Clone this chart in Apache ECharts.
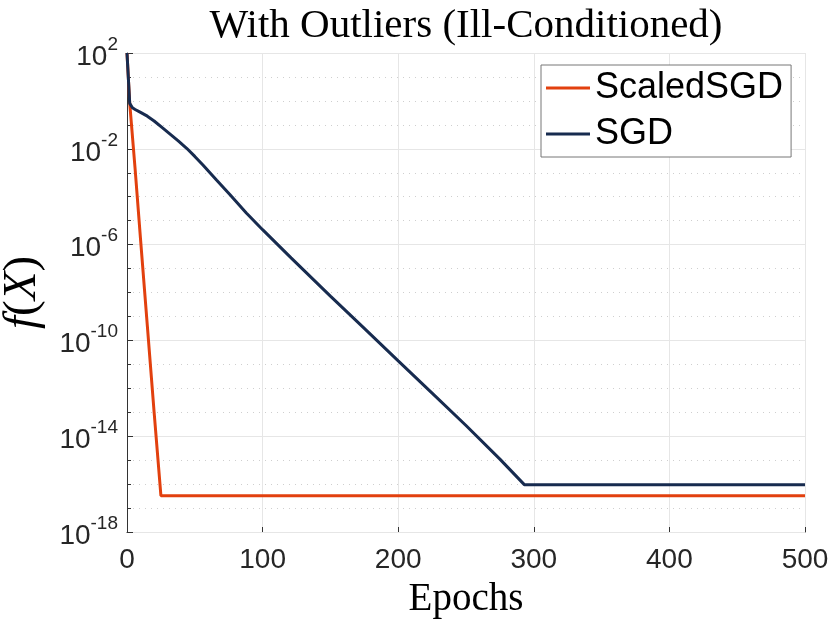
<!DOCTYPE html>
<html>
<head>
<meta charset="utf-8">
<script src="https://cdn.jsdelivr.net/npm/echarts@6/dist/echarts.min.js"></script>
<style>
  html, body { margin: 0; padding: 0; background: #fff; }
  #chart { width: 830px; height: 623px; }
</style>
</head>
<body>
<div id="chart"></div>
<script>
// values (epoch, f(X))
var scaledEpochs = [0, 2, 6, 10, 15, 20, 25, 500];
var scaledLoss   = [100, 0.8, 1.4e-3, 1.6e-6, 4.0e-10, 1.0e-13, 3.3e-17, 3.3e-17];

var sgdEpochs = [0, 2, 4, 6, 10, 15, 20, 26, 32, 38, 44, 50, 56, 66, 76, 88, 100, 121, 150, 175, 200, 225, 250, 275, 293, 500];
var sgdLoss   = [100, 0.79, 0.52, 0.44, 0.33, 0.23, 0.145, 0.076, 0.040, 0.0209, 0.0105, 0.0048, 0.0021, 5.0e-4, 1.2e-4, 2.1e-5,
                 4.2e-6, 2.8e-7, 7.1e-9, 3.2e-10, 1.4e-11, 6.3e-13, 2.8e-14, 1.1e-15, 9.5e-17, 9.5e-17];

var seriesNames = ['ScaledSGD', 'SGD'];
var seriesColors = ['#e2400e', '#172b4f'];

var xTicks = [0, 100, 200, 300, 400, 500];

function pairs(xs, ys) {
  return xs.map(function (x, i) { return [x, ys[i]]; });
}

var chart = echarts.init(document.getElementById('chart'));

var option = {
  animation: false,
  backgroundColor: '#fff',
  title: {
    text: 'With Outliers (Ill-Conditioned)',
    left: 461,
    top: 1,
    textAlign: 'center',
    textStyle: { fontFamily: 'Liberation Serif', fontWeight: 'normal', fontSize: 41, color: '#000' }
  },
  legend: {
    orient: 'vertical',
    left: 541,
    top: 65,
    padding: [3, 8, 3, 5],
    itemGap: 6,
    itemWidth: 44,
    itemHeight: 3,
    icon: 'rect',
    backgroundColor: '#fff',
    borderColor: '#777',
    borderWidth: 1,
    textStyle: { fontFamily: 'Liberation Sans', fontSize: 36, color: '#000', lineHeight: 40 },
    data: seriesNames
  },
  grid: { left: 127, right: 25, top: 53, bottom: 91, outerBoundsMode: 'none' },
  xAxis: {
    type: 'value',
    min: 0,
    max: 500,
    interval: 100,
    name: 'Epochs',
    nameLocation: 'middle',
    nameGap: 48,
    nameTextStyle: { fontFamily: 'Liberation Serif', fontSize: 39, color: '#000' },
    axisLine: { lineStyle: { color: '#333', width: 1 } },
    axisTick: { inside: true, length: 5, lineStyle: { color: '#333' } },
    axisLabel: {
      margin: 14,
      fontFamily: 'Liberation Sans', fontSize: 28, color: '#262626',
      formatter: function (v) { return xTicks.indexOf(v) >= 0 ? String(v) : ''; }
    },
    splitLine: { show: true, lineStyle: { color: '#e6e6e6', width: 1 } }
  },
  yAxis: [
    {
      type: 'log',
      logBase: 10,
      min: 1e-18,
      max: 1e2,
      interval: 4,
      z: 2,
      name: '{i|f}{p|(}{i|X}{p|)}',
      nameLocation: 'middle',
      nameGap: 81,
      nameRotate: 90,
      nameTextStyle: {
        rich: {
          i: { fontFamily: 'Liberation Serif', fontStyle: 'italic', fontSize: 47, color: '#000' },
          p: { fontFamily: 'Liberation Serif', fontSize: 47, color: '#000' }
        }
      },
      axisLine: { show: true, lineStyle: { color: '#333', width: 1 } },
      axisTick: { inside: true, length: 6, lineStyle: { color: '#333' } },
      axisLabel: {
        margin: 9,
        formatter: function (v) {
          var e = Math.round(Math.log(v) / Math.LN10);
          return '{b|10}{s|' + e + '}';
        },
        rich: {
          b: { fontFamily: 'Liberation Sans', fontSize: 28, color: '#262626', lineHeight: 36, verticalAlign: 'bottom' },
          s: { fontFamily: 'Liberation Sans', fontSize: 19, color: '#262626', lineHeight: 36, verticalAlign: 'top' }
        }
      },
      splitLine: { show: true, lineStyle: { color: '#e6e6e6', width: 1 } }
    },
    {
      // minor decades: dotted grid + short ticks
      type: 'log',
      logBase: 10,
      min: 1e-18,
      max: 1e2,
      interval: 1,
      position: 'left',
      z: 1,
      axisLine: { show: false },
      axisTick: { show: true, inside: true, length: 4, lineStyle: { color: '#333' } },
      axisLabel: { show: false },
      splitLine: { show: true, lineStyle: { color: '#cfcfcf', width: 1, type: [1, 5] } }
    }
  ],
  series: [
    {
      name: seriesNames[0],
      type: 'line',
      symbol: 'none',
      color: seriesColors[0],
      lineStyle: { width: 3, color: seriesColors[0] },
      data: pairs(scaledEpochs, scaledLoss)
    },
    {
      name: seriesNames[1],
      type: 'line',
      symbol: 'none',
      color: seriesColors[1],
      lineStyle: { width: 3, color: seriesColors[1] },
      data: pairs(sgdEpochs, sgdLoss)
    }
  ]
};

chart.setOption(option);
</script>
</body>
</html>
